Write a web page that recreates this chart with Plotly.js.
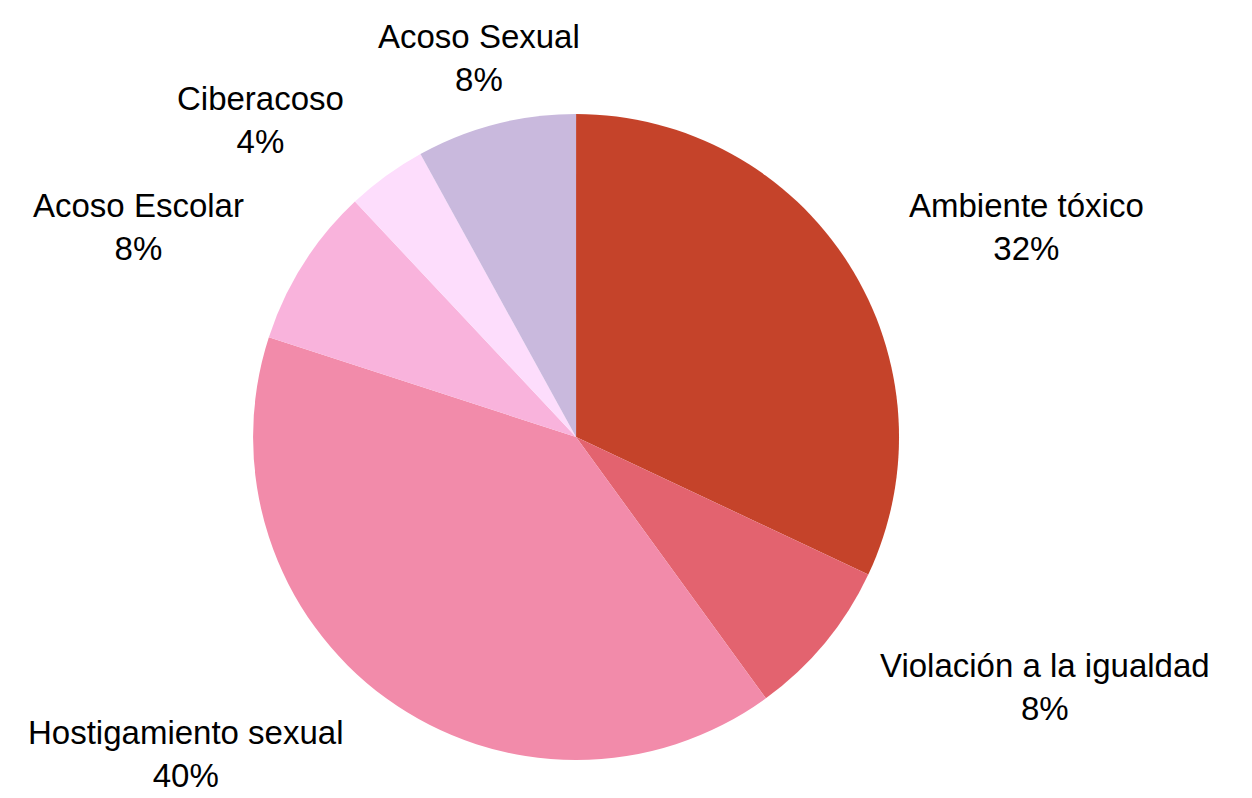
<!DOCTYPE html>
<html>
<head>
<meta charset="utf-8">
<script src="https://cdn.plot.ly/plotly-3.0.1.min.js"></script>
<style>html,body{margin:0;padding:0;background:#fff;}#chart{width:1252px;height:798px;}</style>
</head>
<body>
<div id="chart"></div>
<script>
const categories = ["Ambiente tóxico", "Violación a la igualdad", "Hostigamiento sexual", "Acoso Escolar", "Ciberacoso", "Acoso Sexual"];
const values = [32, 8, 40, 8, 4, 8];
const colors = ["#C5432A", "#E3636F", "#F28BAA", "#F9B3DC", "#FDDDFC", "#C9B9DD"];

const W = 1252, H = 798;
const domX = [0.2021, 0.7181], domY = [0.0476, 0.8571];
// pie geometry derived from domain
const cxPx = (domX[0] + domX[1]) / 2 * W;
const cyPx = (1 - (domY[0] + domY[1]) / 2) * H;
const rPx = Math.min((domX[1] - domX[0]) * W, (domY[1] - domY[0]) * H) / 2;
const labelDist = rPx * 1.212;

const total = values.reduce((a, b) => a + b, 0);
let cum = 0;
const annotations = values.map((v, i) => {
  const mid = (cum + v / 2) / total * 2 * Math.PI;
  cum += v;
  const s = Math.sin(mid), c = Math.cos(mid);
  const px = cxPx + s * labelDist;
  const py = cyPx - c * labelDist;
  let xanchor = "center";
  if (s > 0.35) xanchor = "left";
  else if (s < -0.35) xanchor = "right";
  return {
    xref: "paper", yref: "paper",
    x: px / W, y: 1 - py / H,
    xanchor: xanchor, yanchor: "middle",
    showarrow: false,
    align: "center",
    text: categories[i] + "<br>" + Math.round(v / total * 100) + "%",
    font: {family: "Liberation Sans, Arial, sans-serif", size: 33, color: "#000"}
  };
});

Plotly.newPlot("chart", [{
  type: "pie",
  labels: categories,
  values: values,
  sort: false,
  direction: "clockwise",
  rotation: 0,
  marker: {colors: colors, line: {width: 0}},
  textinfo: "none",
  hoverinfo: "none",
  showlegend: false,
  automargin: false,
  domain: {x: domX, y: domY}
}], {
  width: W, height: H,
  margin: {l: 0, r: 0, t: 0, b: 0},
  paper_bgcolor: "#fff",
  showlegend: false,
  annotations: annotations
}, {staticPlot: true});
</script>
</body>
</html>
